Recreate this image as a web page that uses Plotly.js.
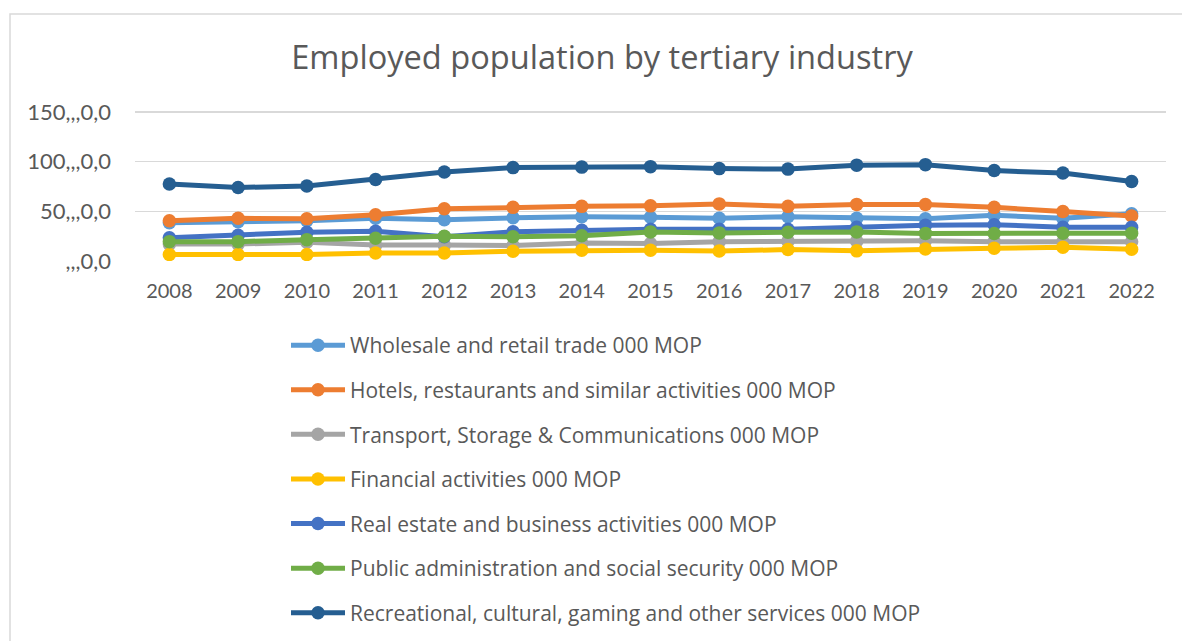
<!DOCTYPE html>
<html>
<head>
<meta charset="utf-8">
<script src="https://cdn.plot.ly/plotly-3.0.1.min.js"></script>
<style>
html,body{margin:0;padding:0;background:#fff;}
#chart{width:1182px;height:641px;}
</style>
</head>
<body>
<div id="chart"></div>
<script>
const years = ["2008","2009","2010","2011","2012","2013","2014","2015","2016","2017","2018","2019","2020","2021","2022"];
const wholesale    = [38.5, 39.5, 40.5, 43.0, 41.5, 43.5, 44.5, 44.0, 43.0, 44.5, 43.0, 42.5, 46.0, 43.0, 47.5];
const hotels       = [40.5, 43.0, 42.5, 46.5, 52.5, 54.0, 55.0, 55.5, 57.5, 55.0, 57.0, 56.8, 54.0, 49.8, 45.3];
const transport    = [17.0, 17.0, 19.0, 16.0, 16.0, 15.5, 18.0, 17.5, 19.5, 20.0, 20.0, 20.5, 19.5, 19.3, 19.3];
const financial    = [6.5, 6.5, 6.5, 8.0, 8.0, 9.8, 10.8, 10.8, 10.0, 11.5, 10.2, 12.0, 12.8, 13.8, 11.8];
const realestate   = [23.5, 26.0, 29.0, 30.0, 24.5, 29.5, 31.0, 32.0, 32.0, 32.0, 34.0, 36.0, 36.5, 34.0, 34.0];
const publicadmin  = [19.5, 19.5, 21.5, 23.0, 25.0, 24.5, 25.5, 29.3, 28.3, 29.0, 29.3, 27.8, 27.7, 28.0, 28.0];
const recreational = [77.5, 74.0, 75.5, 82.0, 89.5, 94.0, 94.5, 95.0, 93.0, 92.5, 96.5, 97.0, 91.0, 88.5, 80.0];

const seriesNames = [
  "Wholesale and retail trade 000 MOP",
  "Hotels, restaurants and similar activities 000 MOP",
  "Transport, Storage & Communications 000 MOP",
  "Financial activities 000 MOP",
  "Real estate and business activities 000 MOP",
  "Public administration and social security 000 MOP",
  "Recreational, cultural, gaming and other services 000 MOP"
];
const seriesValues = [wholesale, hotels, transport, financial, realestate, publicadmin, recreational];
const colors = ["#5B9BD5","#ED7D31","#A5A5A5","#FFC000","#4472C4","#70AD47","#255E91"];

const yTickVals = [0, 50, 100, 150];
const yTickText = [",,,0,0", "50,,,0,0", "100,,,0,0", "150,,,0,0"];

const traces = seriesNames.map((n, i) => ({
  type: "scatter",
  mode: "lines+markers",
  name: n,
  x: years,
  y: seriesValues[i],
  legendgroup: "g" + i,
  line: {color: colors[i], width: 5},
  marker: {color: colors[i], size: 13.5},
  hoverinfo: "x+y+name"
}));

const layout = {
  width: 1182,
  height: 641,
  margin: {l: 135, r: 16, t: 110, b: 380, autoexpand: false},
  paper_bgcolor: "#ffffff",
  plot_bgcolor: "#ffffff",
  font: {family: "'Open Sans', Lato, sans-serif", color: "#595959"},
  title: {
    text: "Employed population by tertiary industry",
    font: {size: 32.6, color: "#595959", family: "'Open Sans', sans-serif"},
    xref: "container", x: 602 / 1182, xanchor: "center",
    yref: "container", y: 1 - 58 / 641, yanchor: "middle"
  },
  xaxis: {
    type: "category",
    range: [-0.5, 14.5],
    showgrid: false,
    showline: false,
    zeroline: false,
    ticks: "",
    ticklabelstandoff: 16,
    tickfont: {size: 20, color: "#595959", family: "Lato, sans-serif"}
  },
  yaxis: {
    range: [0, 152],
    tickvals: yTickVals,
    ticktext: yTickText,
    showgrid: true,
    gridcolor: "#D9D9D9",
    gridwidth: 1.5,
    zeroline: false,
    showline: false,
    ticks: "",
    ticklabelstandoff: 23,
    tickfont: {size: 22, color: "#595959", family: "Lato, sans-serif"}
  },
  showlegend: true,
  legend: {
    orientation: "v",
    x: (286 - 135) / 1031,
    xanchor: "left",
    y: (261 - 325) / 151,
    yanchor: "top",
    font: {size: 21, color: "#595959", family: "'Open Sans', sans-serif"},
    tracegroupgap: 14.3,
    itemwidth: 54,
    bgcolor: "rgba(0,0,0,0)"
  },
  shapes: [{
    type: "rect", xref: "paper", yref: "paper", layer: "below",
    x0: (10 - 135) / 1031, x1: (1230 - 135) / 1031,
    y0: (261 - 700) / 151, y1: (261 - 14) / 151,
    line: {color: "#D9D9D9", width: 1.5}, fillcolor: "rgba(0,0,0,0)"
  }]
};

Plotly.newPlot("chart", traces, layout, {displayModeBar: false, staticPlot: true});
</script>
</body>
</html>
